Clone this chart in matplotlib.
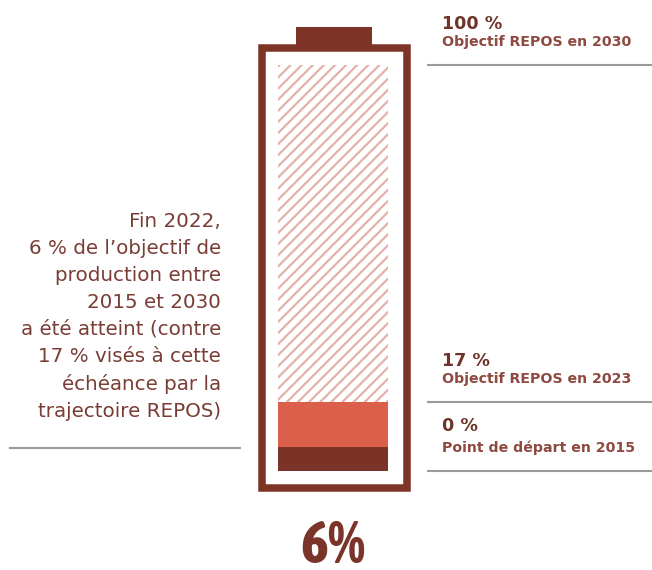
import matplotlib
matplotlib.use("Agg")
import matplotlib.pyplot as plt
from matplotlib.patches import Rectangle
from matplotlib import font_manager as fm

# ---- data ----
levels = [0, 6, 17, 100]               # band boundaries (% of 2030 objective)
band_colors = ["#7b3328", "#dc5f4c", "white"]
band_hatch = [None, None, "///"]
marker_values = [100, 17, 0]
marker_titles = ["100 %", "17 %", "0 %"]
marker_subtitles = ["Objectif REPOS en 2030", "Objectif REPOS en 2023", "Point de départ en 2015"]
achieved_label = "6%"
left_text = ("Fin 2022,\n6 % de l\u2019objectif de\nproduction entre\n2015 et 2030\n"
             "a été atteint (contre\n17 % visés à cette\néchéance par la\ntrajectoire REPOS)")

# find a condensed font if any is installed
cond = None
for f in fm.fontManager.ttflist:
    n = f.name.lower()
    if ("condensed" in n or "narrow" in n) and f.weight in (600, 700, 800, "bold"):
        cond = f.fname
        break
if cond is None:
    for f in fm.fontManager.ttflist:
        n = f.name.lower()
        if "condensed" in n or "narrow" in n:
            cond = f.fname
            break

W, H = 652, 570
plt.rcParams['hatch.linewidth'] = 1.6
plt.rcParams['hatch.color'] = "#e3b2aa"
fig = plt.figure(figsize=(W / 100, H / 100), dpi=100)
fig.patch.set_facecolor("white")

y0px, y100px = 471, 65
ax = fig.add_axes([0, (H - y0px) / H, 1, (y0px - y100px) / H])
ax.set_xlim(0, W)
ax.set_ylim(0, 100)
ax.axis("off")
ppu = (y0px - y100px) / 100.0

def py(px):
    return (y0px - px) / ppu

# bands
for i in range(3):
    ax.bar(333, levels[i + 1] - levels[i], bottom=levels[i], width=110,
           color=band_colors[i], edgecolor="#e3b2aa" if band_hatch[i] else band_colors[i],
           hatch=band_hatch[i], linewidth=0)

frame_col = "#7e3327"
ax.add_patch(Rectangle((261.5, py(487.5)), 145.5, py(48.5) - py(487.5), fill=False,
                       edgecolor=frame_col, linewidth=5.4, joinstyle="miter", clip_on=False))
ax.add_patch(Rectangle((296, py(45)), 76, py(27) - py(45), facecolor=frame_col,
                       edgecolor="none", clip_on=False))

title_col = "#6e3329"
sub_col = "#8e4a40"
for v, t, s in zip(marker_values, marker_titles, marker_subtitles):
    ax.plot([427, 652], [v, v], color="#9b9b9b", linewidth=1.5, clip_on=False,
            solid_capstyle="butt")
    ax.annotate(t, (442, v), xytext=(0, 36 if v != 0 else 40), textcoords="offset pixels",
                ha="left", va="baseline", fontsize=12.6, fontweight="bold", fontstretch="normal",
                color=title_col, family="DejaVu Sans", annotation_clip=False)
    ax.annotate(s, (442, v), xytext=(0, 19), textcoords="offset pixels",
                ha="left", va="baseline", fontsize=10.2, fontweight="bold", fontstretch="normal",
                color=sub_col, family="DejaVu Sans", annotation_clip=False)

fig.text(221 / W, 1 - 212 / H, left_text, ha="right", va="top", multialignment="right",
         fontsize=14.3, color="#7a3d35", linespacing=1.53, family="DejaVu Sans",
         fontstretch="normal")
fig.add_artist(plt.Line2D([10 / W, 240 / W], [1 - 448 / H, 1 - 448 / H],
                          color="#9b9b9b", linewidth=1.5))

if cond is not None:
    fig.text(333 / W, 1 - 563 / H, achieved_label, ha="center", va="baseline",
             color="#7b3429", fontproperties=fm.FontProperties(fname=cond, size=43))
else:
    fig.text(333 / W, 1 - 563 / H, achieved_label, ha="center", va="baseline",
             fontsize=34, fontweight="bold", color="#7b3429", family="Roboto")

fig.savefig("out.png", dpi=100, facecolor="white")
